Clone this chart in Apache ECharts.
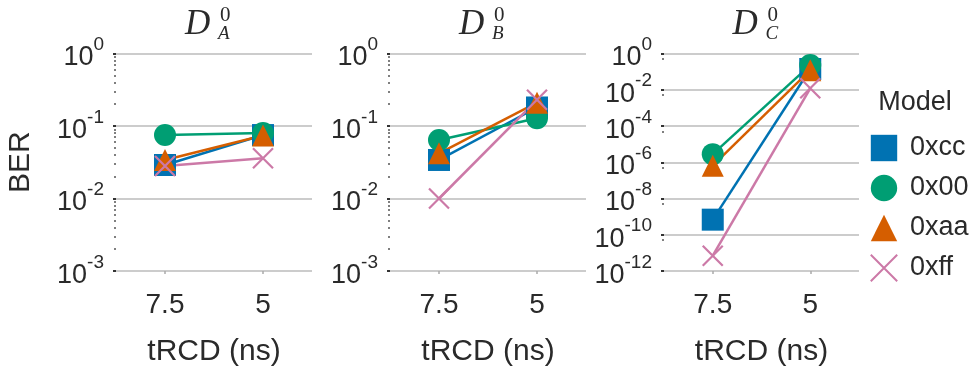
<!DOCTYPE html>
<html><head><meta charset="utf-8">
<script src="https://cdn.jsdelivr.net/npm/echarts@6/dist/echarts.min.js"></script>
<style>html,body{margin:0;padding:0;background:#fff}#c{width:979px;height:374px}</style>
</head><body><div id="c"></div>
<script>
const categories = ['7.5', '5'];
const seriesNames = ['0xcc', '0x00', '0xaa', '0xff'];
const panelTitles = ['A', 'B', 'C'];
// BER values per panel, per pattern, at tRCD = [7.5, 5]
const panelA_0xcc = [0.029, 0.075];
const panelA_0x00 = [0.075, 0.08];
const panelA_0xaa = [0.034, 0.074];
const panelA_0xff = [0.028, 0.036];
const panelB_0xcc = [0.034, 0.18];
const panelB_0x00 = [0.064, 0.128];
const panelB_0xaa = [0.042, 0.21];
const panelB_0xff = [0.010, 0.23];
const panelC_0xcc = [6.8e-10, 0.14];
const panelC_0x00 = [2.8e-6, 0.23];
const panelC_0xaa = [6.5e-7, 0.12];
const panelC_0xff = [7e-12, 0.012];
const yMinAB = 1e-3, yMaxAB = 1, yMinC = 1e-12, yMaxC = 1;

const panelData = [
  [panelA_0xcc, panelA_0x00, panelA_0xaa, panelA_0xff],
  [panelB_0xcc, panelB_0x00, panelB_0xaa, panelB_0xff],
  [panelC_0xcc, panelC_0x00, panelC_0xaa, panelC_0xff]
];
const colors = ['#0072B2', '#009E73', '#D55E00', '#CC79A7'];
const xPath = 'path://M0,0L10,10M10,0L0,10';
const symbols = ['rect', 'circle', 'triangle', xPath];
const textColor = '#2a2a2a';
const grids = [
  {left: 116, width: 196},
  {left: 390, width: 196},
  {left: 664, width: 195}
];
const gridTop = 53.5, gridHeight = 217.5;

const rich = {
  b: {fontSize: 27, fontFamily: 'Liberation Sans', color: textColor, lineHeight: 36, verticalAlign: 'bottom'},
  s: {fontSize: 19, fontFamily: 'Liberation Sans', color: textColor, lineHeight: 36, verticalAlign: 'top'}
};
function fmt(v) {
  const e = Math.round(Math.log10(v));
  return '{b|10}{s|' + e + '}';
}

const option = {
  animation: false,
  backgroundColor: '#fff',
  grid: grids.map(g => ({left: g.left, width: g.width, top: gridTop, height: gridHeight, outerBoundsMode: 'none', containLabel: false})),
  xAxis: grids.map((g, i) => ({
    type: 'category', gridIndex: i, data: categories, boundaryGap: true,
    axisLine: {show: false},
    axisTick: {show: true, alignWithLabel: true, length: 3, lineStyle: {color: '#aaa', width: 1.5}},
    axisLabel: {fontSize: 28, fontFamily: 'Liberation Sans', color: textColor, margin: 20},
    name: 'tRCD (ns)', nameLocation: 'middle', nameGap: 66,
    nameTextStyle: {fontSize: 30, fontFamily: 'Liberation Sans', color: textColor}
  })),
  yAxis: grids.map((g, i) => ({
    type: 'log', logBase: 10, gridIndex: i,
    min: i === 2 ? yMinC : yMinAB, max: i === 2 ? yMaxC : yMaxAB,
    interval: i === 2 ? 2 : 1,
    axisLine: {show: false},
    axisTick: {show: true, length: 3, lineStyle: {color: '#333', width: 2}},
    minorTick: i === 2
      ? {show: true, splitNumber: 2, length: 2, lineStyle: {color: '#555', width: 1.5}}
      : {show: true, splitNumber: 9, length: 2, lineStyle: {color: '#555', width: 1.5}},
    splitLine: {show: true, lineStyle: {color: '#cccccc', width: 2}},
    axisLabel: {formatter: fmt, rich: rich, margin: 12},
    name: i === 0 ? 'BER' : '', nameLocation: 'middle', nameGap: 80, nameRotate: 90,
    nameTextStyle: {fontSize: 30, fontFamily: 'Liberation Sans', color: textColor}
  })),
  legend: {
    orient: 'vertical', left: 864, top: 124, itemWidth: 30, itemHeight: 33, itemGap: 2,
    textStyle: {fontSize: 27, fontFamily: 'Liberation Sans', color: textColor, padding: [0, 0, 0, 6], lineHeight: 38},
    lineStyle: {width: 0, opacity: 0},
    data: seriesNames
  },
  series: [],
  graphic: []
};

panelData.forEach((arrs, p) => {
  arrs.forEach((vals, k) => {
    const isX = k === 3;
    option.series.push({
      type: 'line', name: seriesNames[k], xAxisIndex: p, yAxisIndex: p,
      data: vals, symbol: symbols[k], symbolSize: isX ? 20 : 22,
      lineStyle: {color: colors[k], width: 2.5},
      itemStyle: isX ? {color: 'rgba(0,0,0,0)', borderColor: colors[k], borderWidth: 2.2} : {color: colors[k]},
      emphasis: {disabled: true}
    });
  });
  const cx = grids[p].left + grids[p].width / 2;
  option.graphic.push(
    {type: 'text', x: cx - 29, y: 25, style: {text: 'D', font: 'italic 35px "Liberation Serif"', fill: textColor, align: 'left', verticalAlign: 'middle'}},
    {type: 'text', x: cx + 6, y: 15, style: {text: '0', font: '21px "Liberation Serif"', fill: textColor, align: 'left', verticalAlign: 'middle'}},
    {type: 'text', x: cx + 4, y: 34, style: {text: panelTitles[p], font: 'italic 19px "Liberation Serif"', fill: textColor, align: 'left', verticalAlign: 'middle'}}
  );
});
option.graphic.push({type: 'text', x: 915, y: 103, style: {text: 'Model', font: '27px "Liberation Sans"', fill: textColor, align: 'center', verticalAlign: 'middle'}});

const chart = echarts.init(document.getElementById('c'), null, {renderer: 'canvas'});
chart.setOption(option);
</script></body></html>
